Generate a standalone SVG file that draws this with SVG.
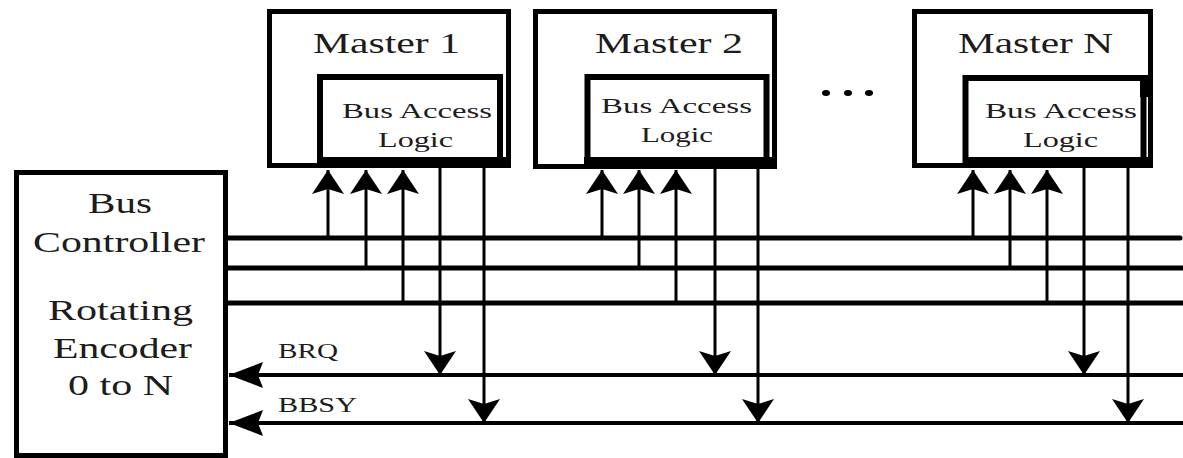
<svg xmlns="http://www.w3.org/2000/svg" width="1183" height="458" viewBox="0 0 1183 458">
  <style>
    .box { fill: #fff; stroke: #000; stroke-width: 5; }
    .inner { fill: #fff; stroke: #000; stroke-width: 6; }
    .band { fill: #000; }
    text { font-family: "Liberation Serif", "DejaVu Serif", serif; fill: #1c1c1c; }
    .big { font-size: 30px; }
    .mid { font-size: 21px; }
    .sig { font-size: 21px; }
    .bus { stroke: #000; stroke-width: 5; fill: none; }
    .ctl { stroke: #000; stroke-width: 4; fill: none; }
    .tap { stroke: #000; stroke-width: 3; fill: none; }
  </style>
  <defs>
    <marker id="arr" markerUnits="userSpaceOnUse" markerWidth="40" markerHeight="40" refX="30" refY="20" orient="auto" overflow="visible">
      <path d="M30,20 L6,4 L11,20 L6,36 Z" fill="#000"/>
    </marker>
    <marker id="arrL" markerUnits="userSpaceOnUse" markerWidth="44" markerHeight="40" refX="38" refY="20" orient="auto" overflow="visible">
      <path d="M38,20 L4,7 L9,20 L4,33 Z" fill="#000"/>
    </marker>
  </defs>

  <!-- bus controller -->
  <g id="bus-controller">
    <rect class="box" x="16.5" y="172.5" width="209" height="283"/>
    <text class="big" x="88" y="213" textLength="64" lengthAdjust="spacingAndGlyphs" font-family="Liberation Serif, serif">Bus</text>
    <text class="big" x="33" y="252" textLength="172" lengthAdjust="spacingAndGlyphs">Controller</text>
    <text class="big" x="48" y="320" textLength="145" lengthAdjust="spacingAndGlyphs">Rotating</text>
    <text class="big" x="53" y="358" textLength="139" lengthAdjust="spacingAndGlyphs">Encoder</text>
    <text class="big" x="68" y="395" textLength="105" lengthAdjust="spacingAndGlyphs">0 to N</text>
  </g>

  <!-- master 1 -->
  <g id="master-1">
    <rect class="box" x="269.5" y="11.5" width="239" height="154"/>
    <text class="big" x="313" y="53" textLength="147" lengthAdjust="spacingAndGlyphs">Master 1</text>
    <rect class="inner" x="320" y="77" width="180" height="86"/>
    <rect class="band" x="317" y="157" width="194" height="11"/>
    <text class="mid" x="342" y="118" textLength="150" lengthAdjust="spacingAndGlyphs">Bus Access</text>
    <text class="mid" x="378" y="147" textLength="75" lengthAdjust="spacingAndGlyphs">Logic</text>
  </g>

  <!-- master 2 -->
  <g id="master-2">
    <rect class="box" x="535.5" y="11.5" width="239" height="155"/>
    <text class="big" x="595" y="53" textLength="148" lengthAdjust="spacingAndGlyphs">Master 2</text>
    <rect class="inner" x="587.5" y="77" width="179" height="86"/>
    <rect class="band" x="584" y="157" width="193" height="12"/>
    <text class="mid" x="601" y="113" textLength="151" lengthAdjust="spacingAndGlyphs">Bus Access</text>
    <text class="mid" x="641" y="142" textLength="72" lengthAdjust="spacingAndGlyphs">Logic</text>
  </g>

  <!-- master N -->
  <g id="master-n">
    <rect class="box" x="914.5" y="11.5" width="236" height="154"/>
    <text class="big" x="958" y="53" textLength="155" lengthAdjust="spacingAndGlyphs">Master N</text>
    <rect class="inner" x="965.5" y="78" width="178" height="85"/>
    <rect class="band" x="1140" y="75" width="8" height="22"/>
    <rect class="band" x="963" y="157" width="190" height="11"/>
    <text class="mid" x="985" y="118" textLength="152" lengthAdjust="spacingAndGlyphs">Bus Access</text>
    <text class="mid" x="1023" y="147" textLength="75" lengthAdjust="spacingAndGlyphs">Logic</text>
  </g>

  <!-- ellipsis between masters -->
  <g id="ellipsis" fill="#000">
    <ellipse cx="826" cy="93" rx="4" ry="3"/>
    <ellipse cx="848" cy="93" rx="4" ry="3"/>
    <ellipse cx="869" cy="93" rx="4" ry="3"/>
  </g>

  <!-- connectors -->
  <g id="connectors">
    <!-- shared bus lines -->
    <line class="bus" x1="228" y1="238" x2="1180" y2="238" stroke-linecap="round"/>
    <line class="bus" x1="228" y1="268" x2="1183" y2="268"/>
    <line class="bus" x1="228" y1="303" x2="1183" y2="303"/>
    <!-- request / busy lines back to the controller -->
    <line class="ctl" x1="1183" y1="375" x2="229" y2="375" marker-end="url(#arrL)"/>
    <line class="ctl" x1="1183" y1="423" x2="229" y2="423" marker-end="url(#arrL)"/>

    <!-- master 1 taps -->
    <line class="tap" x1="328" y1="238" x2="328" y2="170" marker-end="url(#arr)"/>
    <line class="tap" x1="366" y1="268" x2="366" y2="170" marker-end="url(#arr)"/>
    <line class="tap" x1="403" y1="303" x2="403" y2="170" marker-end="url(#arr)"/>
    <line class="tap" x1="440" y1="168" x2="440" y2="375" marker-end="url(#arr)"/>
    <line class="tap" x1="484" y1="168" x2="484" y2="423" marker-end="url(#arr)"/>

    <!-- master 2 taps -->
    <line class="tap" x1="602" y1="238" x2="602" y2="170" marker-end="url(#arr)"/>
    <line class="tap" x1="639" y1="268" x2="639" y2="170" marker-end="url(#arr)"/>
    <line class="tap" x1="676" y1="303" x2="676" y2="170" marker-end="url(#arr)"/>
    <line class="tap" x1="715" y1="169" x2="715" y2="375" marker-end="url(#arr)"/>
    <line class="tap" x1="758" y1="169" x2="758" y2="423" marker-end="url(#arr)"/>

    <!-- master N taps -->
    <line class="tap" x1="973" y1="238" x2="973" y2="170" marker-end="url(#arr)"/>
    <line class="tap" x1="1010" y1="268" x2="1010" y2="170" marker-end="url(#arr)"/>
    <line class="tap" x1="1047" y1="303" x2="1047" y2="170" stroke-width="4.5" marker-end="url(#arr)"/>
    <line class="tap" x1="1084" y1="168" x2="1084" y2="375" marker-end="url(#arr)"/>
    <line class="tap" x1="1128" y1="168" x2="1128" y2="423" marker-end="url(#arr)"/>

    <text class="sig" x="278" y="358" textLength="60" lengthAdjust="spacingAndGlyphs">BRQ</text>
    <text class="sig" x="278" y="412" textLength="79" lengthAdjust="spacingAndGlyphs">BBSY</text>
  </g>
</svg>
